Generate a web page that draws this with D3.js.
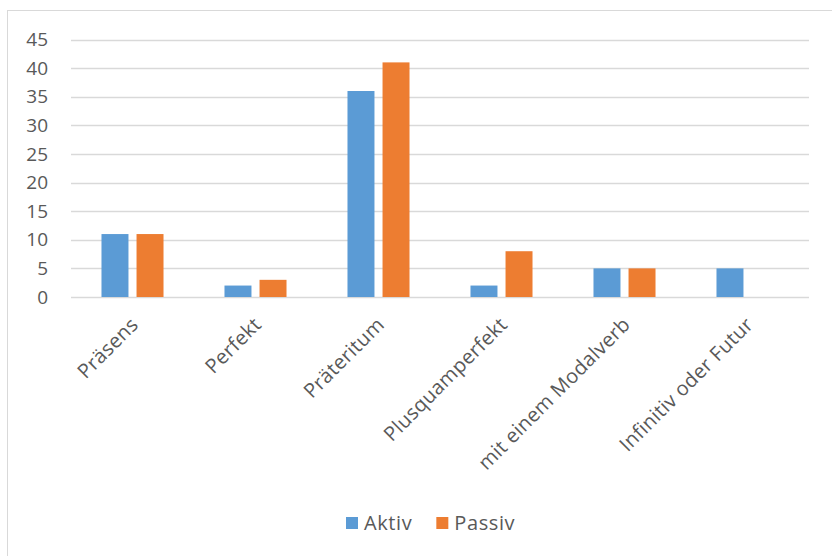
<!DOCTYPE html>
<html>
<head>
<meta charset="utf-8">
<script src="https://cdn.jsdelivr.net/npm/d3@7"></script>
<style>
  body { margin: 0; background: #fff; }
  svg { display: block; font-family: "Open Sans", sans-serif; }
</style>
</head>
<body>
<svg id="chart" width="832" height="556"></svg>
<script>
// chart data
var categories = ['Präsens', 'Perfekt', 'Präteritum', 'Plusquamperfekt', 'mit einem Modalverb', 'Infinitiv oder Futur']
var aktiv = [11, 2, 36, 2, 5, 5]
var passiv = [11, 3, 41, 8, 5, 0]
var seriesNames = ['Aktiv', 'Passiv']
var yTicks = [0, 5, 10, 15, 20, 25, 30, 35, 40, 45]

var colors = ['#5b9bd5', '#ed7d31']
var textColor = '#595959'

var margin = { top: 39.5, left: 71, right: 23, bottom: 259 }
var svg = d3.select('#chart')
var svgWidth = 832
var svgHeight = 556

// outer chart border (runs past right/bottom edge as in the screenshot)
svg.append('rect')
  .attr('x', 7.5).attr('y', 10.5)
  .attr('width', 900).attr('height', 700)
  .attr('fill', 'none')
  .attr('stroke', '#d9d9d9')

var x0 = d3.scaleBand()
  .domain(categories)
  .range([margin.left, svgWidth - margin.right])

var x1 = d3.scaleBand()
  .domain(seriesNames)
  .range([0, x0.bandwidth()])
  .paddingInner(0.23)
  .paddingOuter(0.87)

var y = d3.scaleLinear()
  .domain([0, 45])
  .range([svgHeight - margin.bottom, margin.top])

// gridlines
svg.append('g')
  .selectAll('line')
  .data(yTicks)
  .enter()
  .append('line')
  .attr('x1', margin.left)
  .attr('x2', svgWidth - margin.right)
  .attr('y1', function (d) { return Math.round(y(d)) + 0.5 })
  .attr('y2', function (d) { return Math.round(y(d)) + 0.5 })
  .attr('stroke', '#d9d9d9')
  .attr('stroke-width', 1.5)

// y axis labels
var yAxis = svg.append('g')
  .attr('transform', 'translate(' + (margin.left - 23) + ',0)')
  .call(d3.axisLeft(y).tickValues(yTicks).tickSize(0).tickPadding(0))
yAxis.select('.domain').remove()
yAxis.selectAll('text')
  .attr('fill', textColor)
  .style('font-size', '19px')
  .style('font-family', '"Open Sans", sans-serif')

// bars
var data = categories.map(function (c, i) {
  return { cat: c, values: [aktiv[i], passiv[i]] }
})

svg.append('g')
  .selectAll('g')
  .data(data)
  .enter()
  .append('g')
  .attr('transform', function (d) { return 'translate(' + x0(d.cat) + ',0)' })
  .selectAll('rect')
  .data(function (d) {
    return d.values.map(function (v, j) { return { key: seriesNames[j], value: v, idx: j } })
  })
  .enter()
  .filter(function (d) { return d.value > 0 })
  .append('rect')
  .attr('x', function (d) { return x1(d.key) })
  .attr('y', function (d) { return y(d.value) })
  .attr('width', x1.bandwidth())
  .attr('height', function (d) { return y(0) - y(d.value) })
  .attr('fill', function (d) { return colors[d.idx] })

// x axis labels, rotated
svg.append('g')
  .selectAll('text')
  .data(categories)
  .enter()
  .append('text')
  .attr('transform', function (d) {
    return 'translate(' + (x0(d) + x0.bandwidth() / 2 + 2) + ',' + (y(0) + 24) + ') rotate(-45)'
  })
  .attr('text-anchor', 'end')
  .attr('dy', '0.35em')
  .attr('fill', textColor)
  .style('font-size', '20px')
  .style('letter-spacing', '0.3px')
  .text(function (d) { return d })

// legend
var legend = svg.append('g').attr('transform', 'translate(346,523)')
var lx = 0
seriesNames.forEach(function (name, i) {
  var g = legend.append('g').attr('transform', 'translate(' + lx + ',0)')
  g.append('rect')
    .attr('x', 0).attr('y', -6)
    .attr('width', 12).attr('height', 12)
    .attr('fill', colors[i])
  var t = g.append('text')
    .attr('x', 18)
    .attr('dy', '0.35em')
    .attr('fill', textColor)
    .style('font-size', '20px')
    .style('letter-spacing', '0.6px')
    .text(name)
  lx += 18 + t.node().getComputedTextLength() + 24
})
</script>
</body>
</html>
